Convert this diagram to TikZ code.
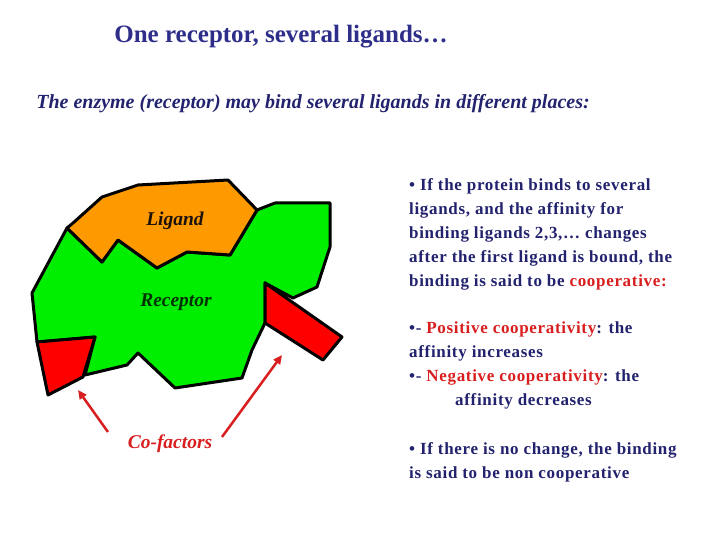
\documentclass[tikz,border=0pt]{standalone}
\usepackage{fontspec}
\setmainfont{Liberation Serif}
\usetikzlibrary{arrows.meta}
\begin{document}
\begin{tikzpicture}[x=1pt,y=-1pt,
 blob/.style={draw=black,line width=3pt,line join=round},
 lbl/.style={font=\fontsize{19.5}{22}\selectfont\bfseries\itshape},
 body/.style={anchor=north west,inner sep=0pt,align=left,text=navy,font=\fontsize{17}{24}\selectfont\bfseries\addfontfeatures{LetterSpace=4}},
 arr/.style={draw=cred,line width=2.5pt,-{Triangle[length=9pt,width=8pt]}}]
\definecolor{navy}{HTML}{22226E}
\definecolor{tnavy}{HTML}{2E2E8A}
\definecolor{cred}{HTML}{D81E1E}
\definecolor{rgreen}{HTML}{00EE00}
\definecolor{lorange}{HTML}{FF9900}
\useasboundingbox (0,0) rectangle (720,540);
\node[font=\fontsize{25}{30}\selectfont\bfseries,text=tnavy] (title) at (281,37) {One receptor, several ligands…};
\node[font=\fontsize{20}{24}\selectfont\bfseries\itshape,text=navy] (sub) at (313,104) {The enzyme (receptor) may bind several ligands in different places:};
\filldraw[fill=rgreen,blob] (67,228)--(32,293)--(37,342)--(95,337)--(85,375)--(127,365)--(138,353)--(175,388)--(242,378)--(252,350)--(265,323)--(265,283)--(293,298)--(317,287)--(330,247)--(330,203)--(275,203)--(257,210)--(230,255)--(187,252)--(157,268)--(118,240)--(102,262)--cycle;
\filldraw[fill=lorange,blob] (67,228)--(73,223)--(102,197)--(138,185)--(228,180)--(257,210)--(230,255)--(187,252)--(157,268)--(118,240)--(102,262)--cycle;
\filldraw[fill=red,blob] (37,342)--(95,337)--(83,377)--(48,395)--cycle;
\filldraw[fill=red,blob] (265,283)--(342,337)--(323,360)--(265,323)--cycle;
\node[lbl,text=black!85!brown] (lig) at (175,221) {Ligand};
\node[lbl,text=black!80!green] (rec) at (176,302) {Receptor};
\node[lbl,text=cred] (cof) at (170,444) {Co-factors};
\coordinate (t1) at (78,390); \coordinate (t2) at (282,355);
\coordinate (s1) at (108,432); \coordinate (s2) at (222,437);
\draw[arr] (s1) -- (t1);
\draw[arr] (s2) -- (t2);
\node[body] (p1) at (409,178) {• If the protein binds to several\\ligands, and the affinity for\\binding ligands 2,3,… changes\\after the first ligand is bound, the\\binding is said to be \textcolor{cred}{cooperative:}};
\node[body] (p2) at (409,322) {•- \textcolor{cred}{Positive cooperativity}: the\\affinity increases\\•- \textcolor{cred}{Negative cooperativity}: the\\\hspace*{46pt}affinity decreases};
\node[body] (p3) at (409,442) {• If there is no change, the binding\\is said to be non cooperative};
\end{tikzpicture}
\end{document}
